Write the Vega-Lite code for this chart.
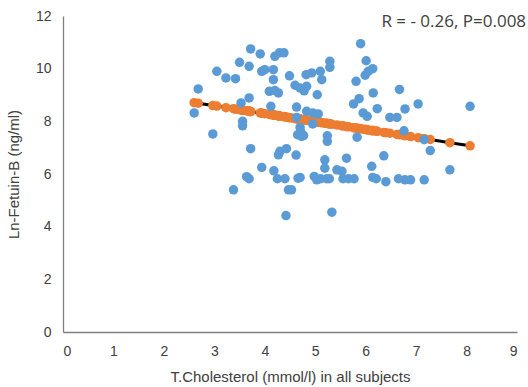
{
  "$schema": "https://vega.github.io/schema/vega-lite/v6.json",
  "width": 454,
  "height": 316,
  "autosize": {"type": "none"},
  "padding": {"left": 63, "top": 16, "right": 11, "bottom": 55},
  "background": "white",
  "config": {
    "view": {"stroke": null},
    "font": "Liberation Sans",
    "axis": {
      "grid": false,
      "ticks": false,
      "domainColor": "#808080",
      "domainWidth": 1.3,
      "labelFont": "Liberation Sans",
      "labelFontSize": 14,
      "labelColor": "#404040",
      "titleFont": "Liberation Sans",
      "titleFontSize": 15,
      "titleFontWeight": "normal",
      "titleColor": "#404040"
    },
    "axisX": {"values": [0, 1, 2, 3, 4, 5, 6, 7, 8, 9], "labelPadding": 12, "titlePadding": 11},
    "axisY": {"values": [0, 2, 4, 6, 8, 10, 12], "labelPadding": 12, "titlePadding": 14}
  },
  "datasets": {
    "pts": [
      {"x": 2.60, "y": 8.32, "fit": 8.71},
      {"x": 2.68, "y": 9.23, "fit": 8.69},
      {"x": 2.97, "y": 7.52, "fit": 8.60},
      {"x": 3.05, "y": 9.90, "fit": 8.58},
      {"x": 3.23, "y": 9.65, "fit": 8.52},
      {"x": 3.42, "y": 9.62, "fit": 8.46},
      {"x": 3.50, "y": 10.24, "fit": 8.44},
      {"x": 3.69, "y": 10.09, "fit": 8.38},
      {"x": 3.72, "y": 10.75, "fit": 8.37},
      {"x": 3.91, "y": 10.56, "fit": 8.32},
      {"x": 3.56, "y": 8.00, "fit": 8.42},
      {"x": 3.56, "y": 7.83, "fit": 8.42},
      {"x": 3.53, "y": 8.70, "fit": 8.43},
      {"x": 3.69, "y": 8.89, "fit": 8.38},
      {"x": 3.72, "y": 6.96, "fit": 8.37},
      {"x": 3.94, "y": 6.25, "fit": 8.31},
      {"x": 3.64, "y": 5.90, "fit": 8.40},
      {"x": 3.69, "y": 5.82, "fit": 8.38},
      {"x": 3.38, "y": 5.40, "fit": 8.48},
      {"x": 4.18, "y": 6.12, "fit": 8.24},
      {"x": 4.25, "y": 5.82, "fit": 8.22},
      {"x": 4.40, "y": 5.82, "fit": 8.17},
      {"x": 4.47, "y": 5.40, "fit": 8.15},
      {"x": 4.42, "y": 4.42, "fit": 8.16},
      {"x": 4.30, "y": 6.86, "fit": 8.20},
      {"x": 4.27, "y": 6.73, "fit": 8.21},
      {"x": 4.43, "y": 6.96, "fit": 8.16},
      {"x": 4.20, "y": 10.47, "fit": 8.23},
      {"x": 4.29, "y": 10.60, "fit": 8.20},
      {"x": 4.38, "y": 10.60, "fit": 8.18},
      {"x": 3.94, "y": 9.90, "fit": 8.31},
      {"x": 4.00, "y": 9.96, "fit": 8.29},
      {"x": 4.17, "y": 9.96, "fit": 8.24},
      {"x": 4.17, "y": 9.58, "fit": 8.24},
      {"x": 4.49, "y": 9.73, "fit": 8.14},
      {"x": 4.09, "y": 9.14, "fit": 8.26},
      {"x": 4.20, "y": 9.17, "fit": 8.23},
      {"x": 4.27, "y": 9.08, "fit": 8.21},
      {"x": 4.12, "y": 8.57, "fit": 8.25},
      {"x": 4.63, "y": 8.54, "fit": 8.10},
      {"x": 4.63, "y": 8.15, "fit": 8.10},
      {"x": 4.65, "y": 7.49, "fit": 8.10},
      {"x": 4.66, "y": 5.84, "fit": 8.09},
      {"x": 5.90, "y": 10.95, "fit": 7.72},
      {"x": 5.29, "y": 10.28, "fit": 7.90},
      {"x": 5.29, "y": 10.05, "fit": 7.90},
      {"x": 6.01, "y": 10.30, "fit": 7.69},
      {"x": 6.14, "y": 10.00, "fit": 7.65},
      {"x": 6.05, "y": 9.90, "fit": 7.67},
      {"x": 5.99, "y": 9.75, "fit": 7.69},
      {"x": 5.81, "y": 9.52, "fit": 7.75},
      {"x": 5.10, "y": 9.90, "fit": 7.96},
      {"x": 5.13, "y": 9.58, "fit": 7.95},
      {"x": 4.82, "y": 9.77, "fit": 8.04},
      {"x": 4.93, "y": 9.84, "fit": 8.01},
      {"x": 4.60, "y": 9.37, "fit": 8.11},
      {"x": 4.70, "y": 9.27, "fit": 8.08},
      {"x": 4.83, "y": 9.33, "fit": 8.04},
      {"x": 4.78, "y": 9.16, "fit": 8.06},
      {"x": 5.04, "y": 9.01, "fit": 7.98},
      {"x": 5.87, "y": 8.86, "fit": 7.73},
      {"x": 5.76, "y": 8.66, "fit": 7.76},
      {"x": 6.15, "y": 9.08, "fit": 7.64},
      {"x": 6.67, "y": 9.21, "fit": 7.49},
      {"x": 4.83, "y": 8.38, "fit": 8.04},
      {"x": 4.95, "y": 8.32, "fit": 8.00},
      {"x": 5.06, "y": 8.28, "fit": 7.97},
      {"x": 5.95, "y": 8.32, "fit": 7.70},
      {"x": 6.03, "y": 8.19, "fit": 7.68},
      {"x": 6.23, "y": 8.48, "fit": 7.62},
      {"x": 6.48, "y": 8.15, "fit": 7.55},
      {"x": 6.62, "y": 8.15, "fit": 7.50},
      {"x": 4.95, "y": 7.90, "fit": 8.00},
      {"x": 4.70, "y": 7.77, "fit": 8.08},
      {"x": 8.07, "y": 8.57, "fit": 7.07},
      {"x": 7.04, "y": 8.66, "fit": 7.38},
      {"x": 6.78, "y": 8.47, "fit": 7.46},
      {"x": 6.76, "y": 7.64, "fit": 7.46},
      {"x": 7.16, "y": 7.30, "fit": 7.34},
      {"x": 7.28, "y": 6.89, "fit": 7.31},
      {"x": 7.67, "y": 6.16, "fit": 7.19},
      {"x": 6.36, "y": 6.69, "fit": 7.58},
      {"x": 6.12, "y": 6.29, "fit": 7.65},
      {"x": 5.83, "y": 7.40, "fit": 7.74},
      {"x": 5.24, "y": 7.45, "fit": 7.92},
      {"x": 5.24, "y": 7.24, "fit": 7.92},
      {"x": 5.62, "y": 6.60, "fit": 7.80},
      {"x": 5.19, "y": 6.54, "fit": 7.93},
      {"x": 5.19, "y": 6.22, "fit": 7.93},
      {"x": 4.71, "y": 7.62, "fit": 8.08},
      {"x": 4.73, "y": 7.43, "fit": 8.07},
      {"x": 4.77, "y": 7.46, "fit": 8.06},
      {"x": 4.62, "y": 6.72, "fit": 8.10},
      {"x": 4.70, "y": 5.87, "fit": 8.08},
      {"x": 4.98, "y": 5.91, "fit": 8.00},
      {"x": 5.03, "y": 5.78, "fit": 7.98},
      {"x": 5.11, "y": 5.82, "fit": 7.96},
      {"x": 5.23, "y": 5.82, "fit": 7.92},
      {"x": 5.28, "y": 5.82, "fit": 7.91},
      {"x": 5.43, "y": 6.16, "fit": 7.86},
      {"x": 5.53, "y": 6.10, "fit": 7.83},
      {"x": 5.55, "y": 5.82, "fit": 7.83},
      {"x": 5.66, "y": 5.82, "fit": 7.79},
      {"x": 5.77, "y": 5.82, "fit": 7.76},
      {"x": 6.14, "y": 5.87, "fit": 7.65},
      {"x": 6.21, "y": 5.82, "fit": 7.63},
      {"x": 6.40, "y": 5.71, "fit": 7.57},
      {"x": 6.65, "y": 5.82, "fit": 7.50},
      {"x": 6.78, "y": 5.78, "fit": 7.46},
      {"x": 6.89, "y": 5.78, "fit": 7.42},
      {"x": 7.16, "y": 5.78, "fit": 7.34},
      {"x": 4.53, "y": 5.40, "fit": 8.13},
      {"x": 5.33, "y": 4.55, "fit": 7.89}
    ],
    "note": [{"label": "R = - 0.26, P=0.008"}]
  },
  "data": {"name": "pts"},
  "layer": [
    {
      "mark": {"type": "line", "color": "black", "strokeWidth": 3},
      "encoding": {
        "x": {"field": "x", "type": "quantitative", "scale": {"domain": [0, 9]}, "title": "T.Cholesterol (mmol/l) in all subjects"},
        "y": {"field": "fit", "type": "quantitative", "scale": {"domain": [0, 12]}, "title": "Ln-Fetuin-B (ng/ml)"}
      }
    },
    {
      "mark": {"type": "point", "filled": true, "size": 90, "opacity": 1, "color": "#ED7D31"},
      "encoding": {
        "x": {"field": "x", "type": "quantitative", "scale": {"domain": [0, 9]}, "title": "T.Cholesterol (mmol/l) in all subjects"},
        "y": {"field": "fit", "type": "quantitative", "scale": {"domain": [0, 12]}, "title": "Ln-Fetuin-B (ng/ml)"}
      }
    },
    {
      "mark": {"type": "point", "filled": true, "size": 90, "opacity": 1, "color": "#5B9BD5"},
      "encoding": {
        "x": {"field": "x", "type": "quantitative", "scale": {"domain": [0, 9]}, "title": "T.Cholesterol (mmol/l) in all subjects"},
        "y": {"field": "y", "type": "quantitative", "scale": {"domain": [0, 12]}, "title": "Ln-Fetuin-B (ng/ml)"}
      }
    },
    {
      "data": {"name": "note"},
      "mark": {"type": "text", "align": "right", "baseline": "middle", "fontSize": 17, "font": "Open Sans", "color": "#404040"},
      "encoding": {
        "text": {"field": "label"},
        "x": {"datum": 9.18, "type": "quantitative", "title": "T.Cholesterol (mmol/l) in all subjects"},
        "y": {"datum": 11.78, "type": "quantitative", "title": "Ln-Fetuin-B (ng/ml)"}
      }
    }
  ]
}
